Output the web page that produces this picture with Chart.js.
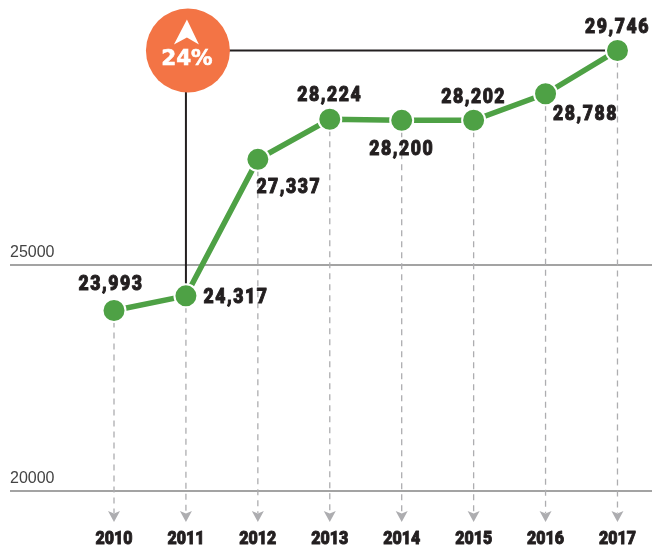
<!DOCTYPE html>
<html>
<head>
<meta charset="utf-8">
<style>
  html, body { margin: 0; padding: 0; background: #fff; }
  canvas { display: block; }
</style>
<script src="https://cdn.jsdelivr.net/npm/chart.js@4/dist/chart.umd.js"></script>
</head>
<body>
<canvas id="chart" width="652" height="547"></canvas>
<script>
const years = [2010, 2011, 2012, 2013, 2014, 2015, 2016, 2017];
const values = [23993, 24317, 27337, 28224, 28200, 28202, 28788, 29746];
const yTicks = [20000, 25000];
const growthLabel = "24%";
const growthFrom = 2011;

// label offset from its point, same order as the years
const labelDx = [-3, 50, 31, 0, 0, 0, 40, 0];
const labelDy = [-26, 2, 28, -24, 29, -23, 21, -23];

const green = "#4ea145";
const orange = "#f37445";
const dark = "#231f20";

// no heavy condensed face is installed, so squeeze and thicken Roboto
function heavyText(c, text, x, y, size, squeeze, spacing) {
    c.save();
    c.translate(x, y);
    c.scale(squeeze, 1);
    c.font = "900 " + size + "px Roboto";
    c.letterSpacing = spacing + "px";
    c.textAlign = "center";
    c.textBaseline = "middle";
    c.fillStyle = dark;
    c.strokeStyle = dark;
    c.lineWidth = 1;
    c.lineJoin = "round";
    c.fillText(text, 0, 0);
    c.strokeText(text, 0, 0);
    c.restore();
}

const guides = {
    id: "guides",
    beforeDatasetsDraw(chart) {
        const x = chart.scales.x, y = chart.scales.y, c = chart.ctx;
        c.save();
        // dashed drop lines with arrow heads
        c.strokeStyle = "#adadb0";
        c.fillStyle = "#adadb0";
        c.lineWidth = 1.3;
        years.forEach((yr, i) => {
            const px = x.getPixelForValue(yr);
            c.setLineDash([6, 5]);
            c.beginPath();
            c.moveTo(px, y.getPixelForValue(values[i]));
            c.lineTo(px, 513);
            c.stroke();
            c.setLineDash([]);
            c.beginPath();
            c.moveTo(px - 6, 511);
            c.lineTo(px, 513.5);
            c.lineTo(px + 6, 511);
            c.lineTo(px, 522);
            c.closePath();
            c.fill();
        });
        // black connectors for the growth badge
        const i0 = years.indexOf(growthFrom);
        const last = years.length - 1;
        const fx = x.getPixelForValue(growthFrom);
        const ly = y.getPixelForValue(values[last]);
        c.strokeStyle = dark;
        c.lineWidth = 2;
        c.beginPath();
        c.moveTo(fx, y.getPixelForValue(values[i0]));
        c.lineTo(fx, ly);
        c.lineTo(x.getPixelForValue(years[last]), ly);
        c.stroke();
        c.restore();
    },
    afterDatasetsDraw(chart) {
        const x = chart.scales.x, y = chart.scales.y, c = chart.ctx;
        // value labels
        values.forEach((v, i) => {
            const px = x.getPixelForValue(years[i]) + labelDx[i];
            const py = y.getPixelForValue(v) + labelDy[i];
            heavyText(c, v.toLocaleString("en-US"), px, py, 21, 0.84, 1.8);
        });
        // year labels
        x.ticks.forEach(t => {
            heavyText(c, String(t.value), x.getPixelForValue(t.value), 539.5, 19, 0.84, 0);
        });
        // growth badge
        c.save();
        const bx = x.getPixelForValue(growthFrom) + 2;
        const by = y.getPixelForValue(values[values.length - 1]);
        c.fillStyle = orange;
        c.beginPath();
        c.arc(bx, by, 42, 0, Math.PI * 2);
        c.fill();
        c.fillStyle = "#fff";
        c.beginPath();
        c.moveTo(bx - 1, by - 31);
        c.lineTo(bx + 11, by - 6);
        c.lineTo(bx - 1, by - 13);
        c.lineTo(bx - 14, by - 6);
        c.closePath();
        c.fill();
        c.font = "bold 21.5px 'DejaVu Sans'";
        c.textAlign = "center";
        c.textBaseline = "middle";
        c.strokeStyle = "#fff";
        c.lineWidth = 0.6;
        c.fillText(growthLabel, bx - 1, by + 9);
        c.strokeText(growthLabel, bx - 1, by + 9);
        c.restore();
    }
};

new Chart(document.getElementById("chart").getContext("2d"), {
    type: "line",
    data: {
        datasets: [{
            data: years.map((yr, i) => ({ x: yr, y: values[i] })),
            borderColor: green,
            borderWidth: 5.5,
            tension: 0,
            clip: false,
            pointRadius: 11.5,
            pointBackgroundColor: green,
            pointBorderColor: "#fff",
            pointBorderWidth: 2
        }]
    },
    options: {
        responsive: false,
        animation: false,
        events: [],
        layout: { autoPadding: false, padding: { left: 10, top: 39, right: 0, bottom: 0 } },
        plugins: { legend: { display: false }, tooltip: { enabled: false } },
        scales: {
            x: {
                type: "linear",
                min: 2008.554,
                max: 2017.48,
                afterBuildTicks(s) { s.ticks = years.map(v => ({ value: v })); },
                afterFit(s) { s.height = 56; },
                grid: { display: false },
                border: { display: false },
                ticks: { display: false }
            },
            y: {
                min: 20000,
                max: 30000,
                afterBuildTicks(s) { s.ticks = yTicks.map(v => ({ value: v })); },
                afterFit(s) { s.width = 0; },
                grid: { color: "#a3a3a3", lineWidth: 2, drawTicks: false },
                border: { display: false },
                ticks: {
                    mirror: true,
                    padding: 0,
                    labelOffset: -12,
                    color: "#444",
                    font: { family: "'Liberation Sans'", size: 16 },
                    callback: v => String(v)
                }
            }
        }
    },
    plugins: [guides]
});
</script>
</body>
</html>
